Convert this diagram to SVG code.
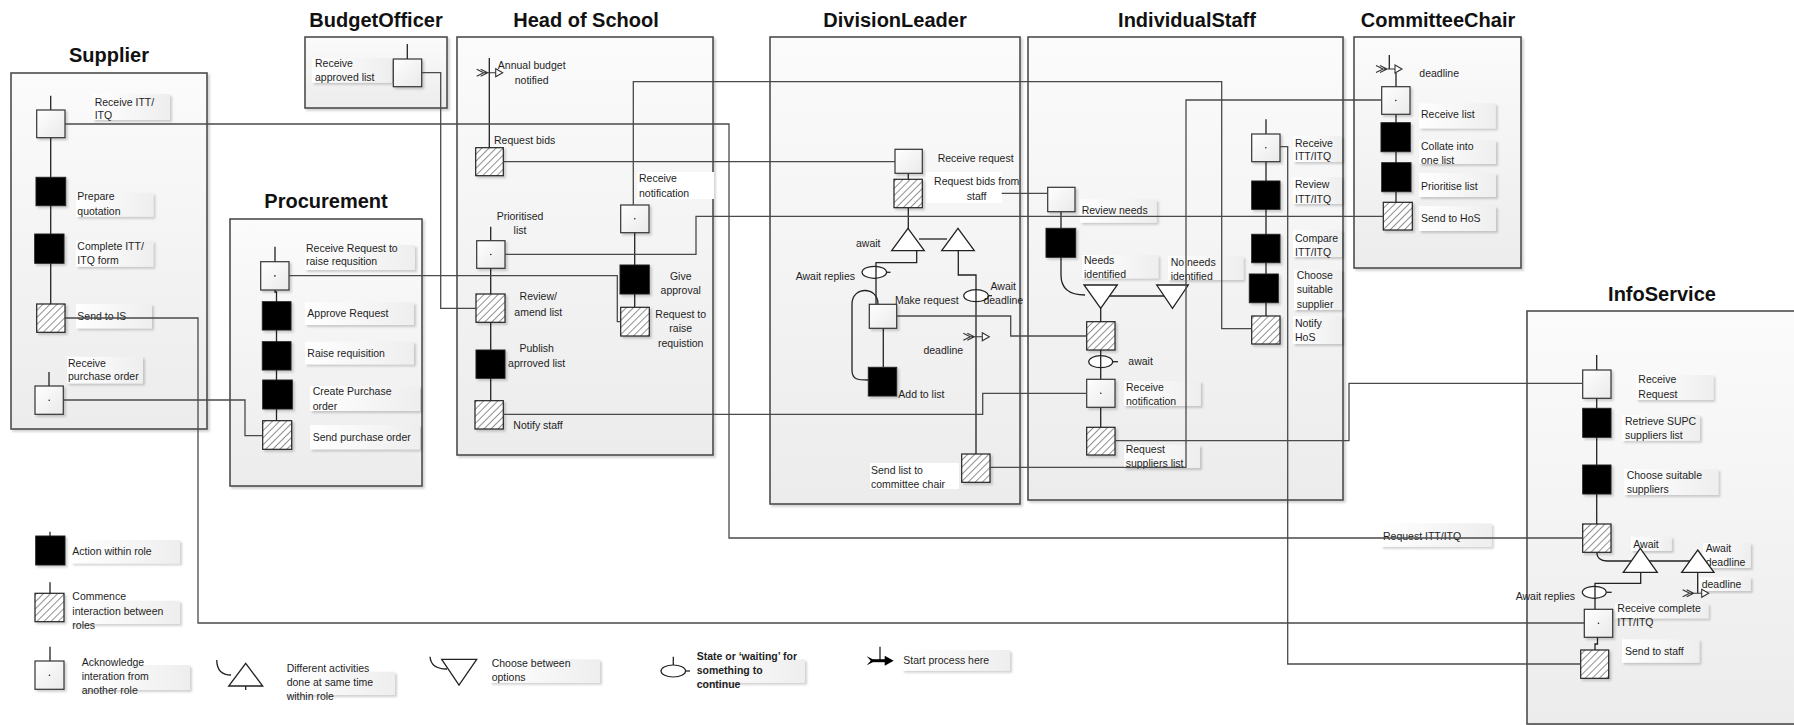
<svg xmlns="http://www.w3.org/2000/svg" xmlns:xlink="http://www.w3.org/1999/xlink" width="1794" height="725" viewBox="0 0 1794 725">
<defs>
  <linearGradient id="laneFill" x1="0" y1="0" x2="0" y2="1">
    <stop offset="0" stop-color="#fbfbfb"/>
    <stop offset="1" stop-color="#ececec"/>
  </linearGradient>
  <linearGradient id="labelFill" x1="0" y1="0" x2="1" y2="0">
    <stop offset="0" stop-color="#ffffff"/>
    <stop offset="1" stop-color="#eeeeee"/>
  </linearGradient>
  <linearGradient id="ackFill" x1="0" y1="0" x2="1" y2="1">
    <stop offset="0" stop-color="#ffffff"/>
    <stop offset="1" stop-color="#e9e9e9"/>
  </linearGradient>
  <pattern id="hatch" width="5" height="5" patternUnits="userSpaceOnUse" patternTransform="rotate(45)">
    <rect width="5" height="5" fill="#ffffff"/>
    <line x1="0" y1="0" x2="0" y2="5" stroke="#222" stroke-width="1"/>
  </pattern>
  <filter id="sh" x="-10%" y="-10%" width="130%" height="130%">
    <feDropShadow dx="2" dy="2" stdDeviation="1.2" flood-color="#000" flood-opacity="0.18"/>
  </filter>
  <!-- start / deadline symbol, outlined -->
  <g id="startOpen">
    <path d="M0,-3.5 L7,0 L0,3.5 M4,-3.5 L11,0 L4,3.5 M7,0 H19" fill="none" stroke="#333" stroke-width="1.1"/>
    <path d="M19,-4 L26,0 L19,4 Z" fill="#fff" stroke="#333" stroke-width="1.1"/>
  </g>
  <!-- start symbol, filled -->
  <g id="startFilled">
    <path d="M0,-4.5 L9,0 L0,4.5 L4,0 Z" fill="#000"/>
    <rect x="6" y="-1.5" width="14" height="3" fill="#000"/>
    <path d="M18,-5 L27,0 L18,5 Z" fill="#000"/>
  </g>
  <style>
    .lane { fill: url(#laneFill); stroke: #4d4d4d; stroke-width: 1.6; filter: url(#sh); }
    .title { font-family: "Liberation Sans", Arial, sans-serif; font-weight: bold; font-size: 20px; fill: #111; text-anchor: middle; }
    .lbl { font-family: "Liberation Sans", Arial, sans-serif; font-size: 10.5px; fill: #1e1e1e; }
    .mid { text-anchor: middle; }
    .end { text-anchor: end; }
    .bold { font-weight: bold; }
    .lbox { fill: url(#labelFill); filter: url(#sh); }
    .wbox { fill: #ffffff; }
    .act { fill: #000; stroke: #222; stroke-width: 1; filter: url(#sh); }
    .hat { fill: url(#hatch); stroke: #222; stroke-width: 1.2; filter: url(#sh); }
    .ack { fill: url(#ackFill); stroke: #333; stroke-width: 1.2; filter: url(#sh); }
    .dot { fill: #222; }
    .wire { fill: none; stroke: #4a4a4a; stroke-width: 1.3; }
    .flow { fill: none; stroke: #222; stroke-width: 1.3; }
    .tri { fill: #fff; stroke: #222; stroke-width: 1.3; }
    .oval { fill: #fff; stroke: #222; stroke-width: 1.2; }
  </style>
</defs>

<rect width="1794" height="725" fill="#ffffff"/>

<!-- role lanes -->
<g id="lanes">
  <g id="lane-supplier">
    <rect class="lane" x="11" y="73" width="196" height="356"/>
    <text class="title" x="109" y="62">Supplier</text>
  </g>
  <g id="lane-budgetofficer">
    <rect class="lane" x="305" y="37" width="142" height="71"/>
    <text class="title" x="376" y="27">BudgetOfficer</text>
  </g>
  <g id="lane-procurement">
    <rect class="lane" x="230" y="219" width="192" height="267"/>
    <text class="title" x="326" y="208">Procurement</text>
  </g>
  <g id="lane-headofschool">
    <rect class="lane" x="457" y="37" width="256" height="418"/>
    <text class="title" x="586" y="27">Head of School</text>
  </g>
  <g id="lane-divisionleader">
    <rect class="lane" x="770" y="37" width="250" height="467"/>
    <text class="title" x="895" y="27">DivisionLeader</text>
  </g>
  <g id="lane-individualstaff">
    <rect class="lane" x="1028" y="37" width="315" height="463"/>
    <text class="title" x="1187" y="27">IndividualStaff</text>
  </g>
  <g id="lane-committeechair">
    <rect class="lane" x="1354" y="37" width="167" height="231"/>
    <text class="title" x="1438" y="27">CommitteeChair</text>
  </g>
  <g id="lane-infoservice">
    <rect class="lane" x="1527" y="311" width="290" height="413"/>
    <text class="title" x="1662" y="301">InfoService</text>
  </g>
</g>

<!-- sequence lines inside each role -->
<g id="flows">
  <path class="flow" d="M50.7,95.7 V304"/>
  <path class="flow" d="M49,372 V386"/>
  <path class="flow" d="M407.3,44 V59"/>
  <path class="flow" d="M275,246.7 V292 H276.5 V421"/>
  <path class="flow" d="M489.3,58 V148"/>
  <path class="flow" d="M490.7,226.7 V401"/>
  <path class="flow" d="M634.7,232 V307"/>
  <path class="flow" d="M908.3,173 V229"/>
  <path class="flow" d="M919,239 H947"/>
  <path class="flow" d="M916.7,250.7 V262.7 H876 V304"/>
  <path class="flow" d="M886.5,272.3 H890.5"/>
  <path class="flow" d="M883.3,328 V367"/>
  <path class="flow" d="M878,304 C878,286 852,286 852,304 V370 C852,380 858,380 868.3,380"/>
  <path class="flow" d="M958.3,250.7 V275 H976 V454"/>
  <path class="flow" d="M988.3,295.7 H992"/>
  <path class="flow" d="M1061,211.7 V228.3"/>
  <path class="flow" d="M1061,257.3 V275 Q1061,295 1085,295"/>
  <path class="flow" d="M1100,296 H1172"/>
  <path class="flow" d="M1100.7,308.3 V427.3"/>
  <path class="flow" d="M1112.7,361.7 H1118"/>
  <path class="flow" d="M1266,119.3 V316"/>
  <path class="flow" d="M1389.3,55 V69"/>
  <path class="flow" d="M1396,73 V202"/>
  <path class="flow" d="M1596.7,355 V524"/>
  <path class="flow" d="M1596.7,552 Q1597,561 1607,561 H1697"/>
  <path class="flow" d="M1640.7,572.3 V583.3 H1595 V609.3"/>
  <path class="flow" d="M1606.5,592.3 H1611.7"/>
  <path class="flow" d="M1597.5,637.3 V644 H1595 V650"/>
  <path class="flow" d="M1697.7,572.3 V593"/>
  <!-- legend stems and lead-ins -->
  <path class="flow" d="M50,531.7 V536"/>
  <path class="flow" d="M50,582.3 V593.3"/>
  <path class="flow" d="M50,646.7 V661"/>
  <path class="flow" d="M216.7,660 Q217,675 231,675"/>
  <path class="flow" d="M245.7,686 V690"/>
  <path class="flow" d="M430,656.7 Q431,669 447,669"/>
  <path class="flow" d="M673.3,656.7 V671"/>
  <path class="flow" d="M685.6,671 H690"/>
  <path class="flow" d="M880,646.7 V660.7"/>
</g>

<!-- Supplier -->
<g id="supplier-receive-itt">
  <rect class="lbox" x="92.7" y="94" width="77.3" height="26"/>
  <text class="lbl" x="94.7" y="105.5">Receive ITT/<tspan x="94.7" y="119">ITQ</tspan></text>
  <rect class="ack" x="36.7" y="110" width="28.3" height="27.7"/>
</g>
<g id="supplier-prepare-quotation">
  <rect class="lbox" x="76" y="192.7" width="77.3" height="24"/>
  <text class="lbl" x="77.3" y="200.4">Prepare<tspan x="77.3" y="214.7">quotation</tspan></text>
  <rect class="act" x="36" y="177.3" width="29.7" height="28.4"/>
</g>
<g id="supplier-complete-itt">
  <rect class="lbox" x="76" y="240.7" width="77.3" height="26"/>
  <text class="lbl" x="77.3" y="250.4">Complete ITT/<tspan x="77.3" y="263.7">ITQ form</tspan></text>
  <rect class="act" x="34.7" y="234" width="29.3" height="29.3"/>
</g>
<g id="supplier-send-to-is">
  <rect class="lbox" x="76" y="304" width="76" height="24.3"/>
  <text class="lbl" x="77.3" y="319.7">Send to IS</text>
  <rect class="hat" x="36.7" y="304" width="28.3" height="28.3"/>
</g>
<g id="supplier-receive-po">
  <rect class="lbox" x="67" y="356.7" width="76" height="26.6"/>
  <text class="lbl" x="68" y="367">Receive<tspan x="68" y="380.4">purchase order</tspan></text>
  <rect class="ack" x="35" y="386" width="28.3" height="28.3"/>
  <circle class="dot" cx="49.2" cy="400.2" r="0.8"/>
</g>

<!-- BudgetOfficer -->
<g id="budget-receive-approved">
  <rect class="lbox" x="312" y="58.3" width="79.7" height="24.4"/>
  <text class="lbl" x="315" y="67">Receive<tspan x="315" y="81">approved list</tspan></text>
  <rect class="ack" x="393.3" y="59" width="28.4" height="27.7"/>
</g>

<!-- Procurement -->
<g id="proc-receive-request">
  <rect class="lbox" x="305" y="245" width="110" height="25"/>
  <text class="lbl" x="306" y="252">Receive Request to<tspan x="306" y="265.4">raise requsition</tspan></text>
  <rect class="ack" x="260.7" y="261.7" width="28.3" height="28.3"/>
  <circle class="dot" cx="274.9" cy="275.9" r="0.8"/>
</g>
<g id="proc-approve-request">
  <rect class="lbox" x="305" y="302.3" width="109" height="22.7"/>
  <text class="lbl" x="307.3" y="317">Approve Request</text>
  <rect class="act" x="262.3" y="301.7" width="28.7" height="28.3"/>
</g>
<g id="proc-raise-requisition">
  <rect class="lbox" x="305" y="341.7" width="109" height="22.6"/>
  <text class="lbl" x="307.3" y="357">Raise requisition</text>
  <rect class="act" x="262.3" y="341.7" width="28.7" height="28.3"/>
</g>
<g id="proc-create-po">
  <rect class="lbox" x="310" y="386" width="110" height="25"/>
  <text class="lbl" x="312.7" y="395.4">Create Purchase<tspan x="312.7" y="409.7">order</tspan></text>
  <rect class="act" x="262.7" y="380" width="29.6" height="29"/>
</g>
<g id="proc-send-po">
  <rect class="lbox" x="310" y="425" width="110" height="24.3"/>
  <text class="lbl" x="312.7" y="441.4">Send purchase order</text>
  <rect class="hat" x="262.7" y="420.7" width="29" height="28.6"/>
</g>

<!-- Head of School -->
<g id="hos-annual-budget">
  <use href="#startOpen" x="476.7" y="72.7"/>
  <text class="lbl mid" x="531.7" y="68.7">Annual budget<tspan x="531.7" y="83.7">notified</tspan></text>
</g>
<g id="hos-request-bids">
  <text class="lbl" x="494" y="143.7">Request bids</text>
  <rect class="hat" x="475.7" y="147.7" width="27.6" height="28"/>
</g>
<g id="hos-prioritised-list">
  <text class="lbl mid" x="520" y="219.7">Prioritised<tspan x="520" y="233.7">list</tspan></text>
  <rect class="ack" x="476.7" y="240.7" width="28.3" height="27.6"/>
  <circle class="dot" cx="490.8" cy="254.5" r="0.8"/>
</g>
<g id="hos-review-amend">
  <text class="lbl mid" x="538.3" y="300.4">Review/<tspan x="538.3" y="316">amend list</tspan></text>
  <rect class="hat" x="476" y="294" width="29" height="28.3"/>
</g>
<g id="hos-publish">
  <text class="lbl mid" x="536.7" y="352">Publish<tspan x="536.7" y="367">aprroved list</tspan></text>
  <rect class="act" x="476" y="350" width="29" height="28.3"/>
</g>
<g id="hos-notify-staff">
  <text class="lbl" x="513.3" y="428.7">Notify staff</text>
  <rect class="hat" x="475" y="400.7" width="28.3" height="28.3"/>
</g>
<g id="hos-receive-notification">
  <rect class="wbox" x="637" y="172" width="77" height="27"/>
  <text class="lbl" x="639" y="182">Receive<tspan x="639" y="197">notification</tspan></text>
  <rect class="ack" x="620.7" y="205" width="28.3" height="27.7"/>
  <circle class="dot" cx="634.8" cy="218.8" r="0.8"/>
</g>
<g id="hos-give-approval">
  <text class="lbl mid" x="680.7" y="280.4">Give<tspan x="680.7" y="293.7">approval</tspan></text>
  <rect class="act" x="620" y="265" width="29.3" height="29"/>
</g>
<g id="hos-request-raise">
  <text class="lbl mid" x="680.7" y="318">Request to<tspan x="680.7" y="332">raise</tspan><tspan x="680.7" y="347">requistion</tspan></text>
  <rect class="hat" x="620.7" y="307.3" width="28.6" height="28.7"/>
</g>

<!-- DivisionLeader -->
<g id="dl-receive-request">
  <text class="lbl" x="937.7" y="162">Receive request</text>
  <rect class="ack" x="895" y="149.3" width="27.3" height="24"/>
</g>
<g id="dl-request-bids-staff">
  <rect class="wbox" x="926" y="172" width="76" height="31"/>
  <text class="lbl mid" x="976.7" y="185.4">Request bids from<tspan x="976.7" y="200.4">staff</tspan></text>
  <rect class="hat" x="894" y="179.3" width="28.3" height="28.4"/>
</g>
<g id="dl-await">
  <polygon class="tri" points="908,228.3 924.3,250.7 891.7,250.7"/>
  <text class="lbl" x="856" y="247">await</text>
</g>
<g id="dl-await-deadline-branch">
  <polygon class="tri" points="958,228.3 974.3,250.7 941.7,250.7"/>
</g>
<g id="dl-await-replies">
  <ellipse class="oval" cx="874.3" cy="272.3" rx="12.3" ry="6"/>
  <line class="flow" x1="876" y1="266.3" x2="876" y2="278.3"/>
  <text class="lbl end" x="855" y="280.4">Await replies</text>
</g>
<g id="dl-make-request">
  <text class="lbl" x="895" y="304.4">Make request</text>
  <rect class="ack" x="869.3" y="304.3" width="27.4" height="24"/>
</g>
<g id="dl-add-to-list">
  <rect class="act" x="868.3" y="367.3" width="28.4" height="28.7"/>
  <text class="lbl" x="898.3" y="397.7">Add to list</text>
</g>
<g id="dl-await-deadline">
  <ellipse class="oval" cx="976" cy="295.7" rx="12.3" ry="6"/>
  <line class="flow" x1="976" y1="289.7" x2="976" y2="301.7"/>
  <text class="lbl mid" x="1003.3" y="290.4">Await<tspan x="1003.3" y="304.4">deadline</tspan></text>
</g>
<g id="dl-deadline">
  <use href="#startOpen" x="963.3" y="336.7"/>
  <text class="lbl mid" x="943.3" y="353.7">deadline</text>
</g>
<g id="dl-send-list">
  <rect class="wbox" x="870" y="463" width="89" height="26"/>
  <text class="lbl" x="871" y="474.4">Send list to<tspan x="871" y="487.7">committee chair</tspan></text>
  <rect class="hat" x="961.7" y="454" width="28.3" height="28.3"/>
</g>

<!-- IndividualStaff -->
<g id="is-review-needs">
  <rect class="lbox" x="1080" y="199.3" width="76.7" height="23.4"/>
  <text class="lbl" x="1081.7" y="213.7">Review needs</text>
  <rect class="ack" x="1047.7" y="187.3" width="27.3" height="24.4"/>
</g>
<g id="is-assess-needs">
  <rect class="act" x="1046" y="228.3" width="29.7" height="29"/>
</g>
<g id="is-needs-identified">
  <rect class="lbox" x="1082" y="255" width="76.3" height="23.3"/>
  <text class="lbl" x="1084" y="263.7">Needs<tspan x="1084" y="277.7">identified</tspan></text>
  <polygon class="tri" points="1084,285 1117.3,285 1100.7,308.3"/>
</g>
<g id="is-no-needs">
  <rect class="lbox" x="1168" y="256" width="75.3" height="24"/>
  <text class="lbl" x="1170.7" y="266">No needs<tspan x="1170.7" y="279.7">identified</tspan></text>
  <polygon class="tri" points="1156.7,285 1188.3,285 1172.5,308.3"/>
</g>
<g id="is-submit-needs">
  <rect class="hat" x="1086.7" y="321.7" width="28.3" height="28.3"/>
</g>
<g id="is-await">
  <ellipse class="oval" cx="1100.7" cy="361.7" rx="12" ry="6"/>
  <line class="flow" x1="1100.7" y1="355.7" x2="1100.7" y2="367.7"/>
  <text class="lbl" x="1128.3" y="365.4">await</text>
</g>
<g id="is-receive-notification">
  <rect class="lbox" x="1124" y="381" width="76.7" height="25"/>
  <text class="lbl" x="1126" y="391">Receive<tspan x="1126" y="404.7">notification</tspan></text>
  <rect class="ack" x="1086.7" y="379.3" width="28.3" height="28"/>
  <circle class="dot" cx="1100.8" cy="393.3" r="0.8"/>
</g>
<g id="is-request-suppliers">
  <rect class="lbox" x="1124" y="445" width="76" height="23"/>
  <text class="lbl" x="1125.7" y="453">Request<tspan x="1125.7" y="467">suppliers list</tspan></text>
  <rect class="hat" x="1086.7" y="427.3" width="28.3" height="27.7"/>
</g>
<g id="is-receive-itt">
  <rect class="lbox" x="1293" y="136" width="49" height="26"/>
  <text class="lbl" x="1295" y="147">Receive<tspan x="1295" y="160.4">ITT/ITQ</tspan></text>
  <rect class="ack" x="1251.7" y="134" width="28.3" height="27.7"/>
  <circle class="dot" cx="1265.8" cy="147.8" r="0.8"/>
</g>
<g id="is-review-itt">
  <rect class="lbox" x="1293" y="177" width="49" height="27"/>
  <text class="lbl" x="1295" y="188">Review<tspan x="1295" y="203">ITT/ITQ</tspan></text>
  <rect class="act" x="1251.7" y="181" width="28.3" height="28.3"/>
</g>
<g id="is-compare-itt">
  <rect class="lbox" x="1293" y="230" width="49" height="27"/>
  <text class="lbl" x="1295" y="242">Compare<tspan x="1295" y="256">ITT/ITQ</tspan></text>
  <rect class="act" x="1251.7" y="234.3" width="28.3" height="28.4"/>
</g>
<g id="is-choose-supplier">
  <rect class="lbox" x="1294" y="270" width="48" height="40"/>
  <text class="lbl" x="1296.7" y="279">Choose<tspan x="1296.7" y="293">suitable</tspan><tspan x="1296.7" y="307.7">supplier</tspan></text>
  <rect class="act" x="1249.3" y="274" width="29" height="28.7"/>
</g>
<g id="is-notify-hos">
  <rect class="lbox" x="1293" y="316" width="49" height="28"/>
  <text class="lbl" x="1295" y="327">Notify<tspan x="1295" y="341">HoS</tspan></text>
  <rect class="hat" x="1251.7" y="316" width="28.3" height="28"/>
</g>

<!-- CommitteeChair -->
<g id="cc-deadline">
  <use href="#startOpen" x="1376" y="69"/>
  <text class="lbl" x="1419.3" y="77">deadline</text>
</g>
<g id="cc-receive-list">
  <rect class="lbox" x="1419" y="103.3" width="76.7" height="25"/>
  <text class="lbl" x="1421" y="118">Receive list</text>
  <rect class="ack" x="1381.7" y="86.7" width="28.3" height="27.6"/>
  <circle class="dot" cx="1395.8" cy="100.5" r="0.8"/>
</g>
<g id="cc-collate">
  <rect class="lbox" x="1419" y="140" width="77" height="24"/>
  <text class="lbl" x="1421" y="150.4">Collate into<tspan x="1421" y="164.4">one list</tspan></text>
  <rect class="act" x="1381" y="122.7" width="29.3" height="29"/>
</g>
<g id="cc-prioritise">
  <rect class="lbox" x="1419" y="173" width="77" height="24"/>
  <text class="lbl" x="1421" y="189.7">Prioritise list</text>
  <rect class="act" x="1381.7" y="162.7" width="29.3" height="29"/>
</g>
<g id="cc-send-to-hos">
  <rect class="lbox" x="1419" y="206" width="77" height="25"/>
  <text class="lbl" x="1421" y="222">Send to HoS</text>
  <rect class="hat" x="1383.3" y="202.3" width="29" height="27.7"/>
</g>

<!-- InfoService -->
<g id="info-receive-request">
  <rect class="lbox" x="1636" y="375" width="77.3" height="25"/>
  <text class="lbl" x="1638.3" y="383">Receive<tspan x="1638.3" y="397.7">Request</tspan></text>
  <rect class="ack" x="1582.7" y="370" width="28.3" height="28.3"/>
</g>
<g id="info-retrieve-supc">
  <rect class="lbox" x="1622" y="415" width="78" height="25.7"/>
  <text class="lbl" x="1625" y="424.7">Retrieve SUPC<tspan x="1625" y="438.7">suppliers list</tspan></text>
  <rect class="act" x="1582.7" y="408.3" width="28.3" height="29"/>
</g>
<g id="info-choose-suppliers">
  <rect class="lbox" x="1624" y="469" width="94.3" height="26"/>
  <text class="lbl" x="1626.7" y="479.4">Choose suitable<tspan x="1626.7" y="493">suppliers</tspan></text>
  <rect class="act" x="1582.7" y="465" width="28.3" height="29"/>
</g>
<g id="info-request-itt">
  <rect class="lbox" x="1381" y="523.3" width="110.7" height="23.4"/>
  <text class="lbl" x="1383" y="539.7">Request ITT/ITQ</text>
  <rect class="hat" x="1582.7" y="524" width="28.3" height="28.3"/>
</g>
<g id="info-await">
  <rect class="lbox" x="1631" y="536.7" width="40.7" height="14.3"/>
  <text class="lbl" x="1633.3" y="548">Await</text>
  <polygon class="tri" points="1640.3,548.3 1657.3,572.3 1623.3,572.3"/>
</g>
<g id="info-await-deadline">
  <rect class="lbox" x="1703" y="543" width="47.7" height="25"/>
  <text class="lbl" x="1705.7" y="552">Await<tspan x="1705.7" y="566">deadline</tspan></text>
  <polygon class="tri" points="1697.7,550 1714,572.3 1681.7,572.3"/>
</g>
<g id="info-deadline">
  <rect class="lbox" x="1699" y="577" width="51.7" height="14"/>
  <text class="lbl" x="1701.7" y="587.7">deadline</text>
  <use href="#startOpen" x="1682.7" y="593.3"/>
</g>
<g id="info-await-replies">
  <ellipse class="oval" cx="1594.3" cy="592.3" rx="12" ry="6"/>
  <line class="flow" x1="1595" y1="586.3" x2="1595" y2="598.3"/>
  <text class="lbl end" x="1575" y="599.7">Await replies</text>
</g>
<g id="info-receive-complete">
  <rect class="lbox" x="1615" y="603.3" width="93.3" height="15"/>
  <text class="lbl" x="1617.3" y="612">Receive complete<tspan x="1617.3" y="626">ITT/ITQ</tspan></text>
  <rect class="ack" x="1584.3" y="609.3" width="28.4" height="28"/>
  <circle class="dot" cx="1598.5" cy="623.3" r="0.8"/>
</g>
<g id="info-send-to-staff">
  <rect class="lbox" x="1622" y="639.3" width="77.3" height="23.4"/>
  <text class="lbl" x="1625" y="654.7">Send to staff</text>
  <rect class="hat" x="1580.7" y="650" width="28" height="28.3"/>
</g>

<!-- legend -->
<g id="legend-action">
  <rect class="lbox" x="71" y="540" width="109" height="23.3"/>
  <text class="lbl" x="72.3" y="554.7">Action within role</text>
  <rect class="act" x="35.7" y="536" width="29.3" height="29"/>
</g>
<g id="legend-commence">
  <rect class="lbox" x="71" y="600.7" width="109" height="23.3"/>
  <text class="lbl" x="72.3" y="600.4">Commence<tspan x="72.3" y="614.7">interaction between</tspan><tspan x="72.3" y="628.7">roles</tspan></text>
  <rect class="hat" x="35" y="593.3" width="29" height="28.4"/>
</g>
<g id="legend-acknowledge">
  <rect class="lbox" x="80" y="665" width="110" height="25"/>
  <text class="lbl" x="81.7" y="666">Acknowledge<tspan x="81.7" y="679.7">interation from</tspan><tspan x="81.7" y="693.7">another role</tspan></text>
  <rect class="ack" x="35" y="661" width="29" height="28.3"/>
  <circle class="dot" cx="49.5" cy="675.2" r="0.8"/>
</g>
<g id="legend-parallel">
  <rect class="lbox" x="285" y="671.7" width="110" height="23.3"/>
  <text class="lbl" x="286.7" y="672">Different activities<tspan x="286.7" y="686">done at same time</tspan><tspan x="286.7" y="699.7">within role</tspan></text>
  <polygon class="tri" points="245.7,663.3 262.7,686 228.7,686"/>
</g>
<g id="legend-choose">
  <rect class="lbox" x="490" y="659.3" width="110" height="23.4"/>
  <text class="lbl" x="491.7" y="667">Choose between<tspan x="491.7" y="681">options</tspan></text>
  <polygon class="tri" points="441.7,659.3 476.7,659.3 459,685"/>
</g>
<g id="legend-state">
  <rect class="lbox" x="695" y="659.3" width="110" height="23.4"/>
  <text class="lbl bold" x="696.7" y="659.7">State or ‘waiting’ for<tspan x="696.7" y="673.7">something to</tspan><tspan x="696.7" y="687.7">continue</tspan></text>
  <ellipse class="oval" cx="673.3" cy="671" rx="12.3" ry="6"/>
</g>
<g id="legend-start">
  <rect class="lbox" x="902" y="650" width="108" height="20.7"/>
  <text class="lbl" x="903.3" y="663.7">Start process here</text>
  <use href="#startFilled" x="866.7" y="660.7"/>
</g>

<!-- interactions between roles -->
<g id="connectors">
  <path class="wire" d="M65,124 H729 V538 H1582.7"/>
  <path class="wire" d="M65,318 H198 V623 H1584.3"/>
  <path class="wire" d="M63.3,400 H245 V435.7 H262.7"/>
  <path class="wire" d="M421.7,72.7 H440.7 V308.3 H476"/>
  <path class="wire" d="M289,275.7 H617.3 V321.7 H620.7"/>
  <path class="wire" d="M503.3,161.7 H895"/>
  <path class="wire" d="M1383.3,216.3 H696 V254.3 H505"/>
  <path class="wire" d="M1251.7,328.7 H1221.7 V81.7 H633.3 V205"/>
  <path class="wire" d="M503.3,414.3 H982.7 V393.3 H1086.7"/>
  <path class="wire" d="M1001.7,193.3 H1047.7"/>
  <path class="wire" d="M896.7,316 H1010.7 V336 H1086.7"/>
  <path class="wire" d="M990,467.3 H1186 V100 H1381.7"/>
  <path class="wire" d="M1115,440.7 H1349 V383.3 H1582.7"/>
  <path class="wire" d="M1580.7,664 H1287.7 V146.7 H1280"/>
</g>
</svg>
